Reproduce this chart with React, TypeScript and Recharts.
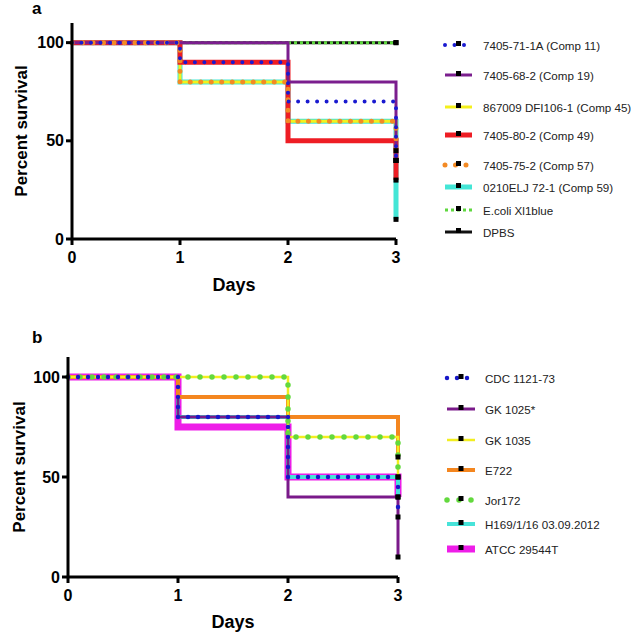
import React from 'react';
import { LineChart, Line, XAxis, YAxis } from 'recharts';

// ---------- data ----------
const days = [0, 1, 2, 3];
const xTicks = [0, 1, 2, 3];
const yTicks = [0, 50, 100];

// Panel a
const namesA = [
  '7405-71-1A (Comp 11)',
  '7405-68-2 (Comp 19)',
  '867009 DFI106-1 (Comp 45)',
  '7405-80-2 (Comp 49)',
  '7405-75-2 (Comp 57)',
  '0210ELJ 72-1 (Comp 59)',
  'E.coli Xl1blue',
  'DPBS',
];
const comp11 = [100, 90, 70, 40];
const comp19 = [100, 100, 80, 40];
const comp45 = [100, 80, 60, 40];
const comp49 = [100, 90, 50, 30];
const comp57 = [100, 80, 60, 45];
const comp59 = [100, 80, 60, 10];
const ecoli = [100, 100, 100, 100];
const dpbs = [100, 100, 100, 100];
const valuesA = [comp11, comp19, comp45, comp49, comp57, comp59, ecoli, dpbs];

// Panel b
const namesB = [
  'CDC 1121-73',
  'GK 1025*',
  'GK 1035',
  'E722',
  'Jor172',
  'H169/1/16 03.09.2012',
  'ATCC 29544T',
];
const cdc = [100, 80, 50, 30];
const gk1025 = [100, 80, 40, 10];
const gk1035 = [100, 100, 70, 50];
const e722 = [100, 90, 80, 60];
const jor172 = [100, 100, 70, 50];
const h169 = [100, 80, 50, 40];
const atcc = [100, 75, 50, 40];
const valuesB = [cdc, gk1025, gk1035, e722, jor172, h169, atcc];

// ---------- styles ----------
type St = { color: string; width: number; dash?: string; cap?: 'round' | 'butt' };
const stylesA: St[] = [
  { color: '#1a1ad0', width: 4, dash: '0 9.5', cap: 'round' },
  { color: '#7b1e8e', width: 3 },
  { color: '#f4f01c', width: 3 },
  { color: '#ee1d24', width: 5 },
  { color: '#f38a24', width: 5, dash: '0 10.5', cap: 'round' },
  { color: '#44e6d6', width: 5 },
  { color: '#5fd83f', width: 3, dash: '3 3' },
  { color: '#111111', width: 3 },
];
const orderA = [7, 6, 5, 2, 3, 1, 4, 0];
const legendYA = [45, 75, 107, 135, 165, 187, 210, 232];

const stylesB: St[] = [
  { color: '#1818c8', width: 4.5, dash: '0 10', cap: 'round' },
  { color: '#7a1a8a', width: 3 },
  { color: '#f2ee20', width: 2.5 },
  { color: '#f4861f', width: 4 },
  { color: '#63d93e', width: 5.5, dash: '0 12', cap: 'round' },
  { color: '#47e3d9', width: 4 },
  { color: '#ee1de8', width: 7 },
];
const orderB = [6, 5, 1, 3, 2, 4, 0];
const legendYB = [378, 409, 440, 470, 500, 524, 549];

const FONT = '"Liberation Sans", Arial, Helvetica, sans-serif';

const buildRows = (vals: number[][]) =>
  days.map((d, i) => {
    const row: Record<string, number> = { day: d };
    vals.forEach((v, k) => {
      row['s' + k] = v[i];
    });
    return row;
  });

const rowsA = buildRows(valuesA);
const rowsB = buildRows(valuesB);

const endMark = (props: any) => {
  const { cx, cy, index } = props;
  if (index !== days.length - 1 || cx == null || cy == null) return <g key={'m' + index} />;
  return <rect key={'m' + index} x={cx - 2.5} y={cy - 2.5} width={5} height={5} fill="#000" />;
};

const tickStyle = { fill: '#000', fontSize: 16, fontWeight: 'bold', fontFamily: FONT };
const axisStroke = { stroke: '#000', strokeWidth: 3 };

function Panel(props: {
  rows: Record<string, number>[];
  styles: St[];
  order: number[];
  margin: { top: number; right: number; bottom: number; left: number };
  top: number;
}) {
  const { rows, styles, order, margin, top } = props;
  return (
    <div style={{ position: 'absolute', left: 0, top, width: 420, height: 300 }}>
      <LineChart width={420} height={300} data={rows} margin={margin}>
        <XAxis
          dataKey="day"
          type="number"
          domain={[0, 3]}
          ticks={xTicks}
          axisLine={axisStroke}
          tickLine={axisStroke}
          tickSize={6}
          tickMargin={7}
          tick={tickStyle}
          height={30}
        />
        <YAxis
          type="number"
          domain={[0, 110]}
          ticks={yTicks}
          axisLine={axisStroke}
          tickLine={axisStroke}
          tickSize={6}
          tickMargin={2}
          tick={tickStyle}
          width={40}
        />
        {order.map((k) => (
          <Line
            key={k}
            dataKey={'s' + k}
            type="stepAfter"
            stroke={styles[k].color}
            strokeWidth={styles[k].width}
            strokeDasharray={styles[k].dash}
            strokeLinecap={styles[k].cap || 'butt'}
            dot={endMark}
            activeDot={false}
            isAnimationActive={false}
          />
        ))}
      </LineChart>
    </div>
  );
}

function LegendRows(props: { names: string[]; styles: St[]; ys: number[]; x0: number; x1: number; tx: number }) {
  const { names, styles, ys, x0, x1, tx } = props;
  return (
    <g>
      {names.map((n, i) => {
        const s = styles[i];
        const y = ys[i];
        const mid = (x0 + x1) / 2;
        return (
          <g key={n}>
            <line
              x1={x0}
              x2={x1}
              y1={y}
              y2={y}
              stroke={s.color}
              strokeWidth={s.width}
              strokeDasharray={s.dash}
              strokeLinecap={s.cap || 'butt'}
            />
            <rect x={mid - 2.5} y={y - 4} width={5} height={5} fill="#000" />
            <text x={tx} y={y + 4.5} fontSize={11.6} fontFamily={FONT} fill="#222">
              {n}
            </text>
          </g>
        );
      })}
    </g>
  );
}

export default function App() {
  return (
    <div style={{ position: 'absolute', left: 0, top: 0, width: 635, height: 639, background: '#fff' }}>
      <Panel rows={rowsA} styles={stylesA} order={orderA} margin={{ top: 23, right: 24, bottom: 31, left: 32 }} top={0} />
      <Panel rows={rowsB} styles={stylesB} order={orderB} margin={{ top: 27, right: 22, bottom: 23, left: 28 }} top={330} />
      <svg width={635} height={639} style={{ position: 'absolute', left: 0, top: 0, pointerEvents: 'none' }}>
        <text x={32} y={14} fontSize={17} fontWeight="bold" fontFamily={FONT} fill="#000">a</text>
        <text x={32} y={343} fontSize={17} fontWeight="bold" fontFamily={FONT} fill="#000">b</text>
        <text x={234} y={291} fontSize={18} fontWeight="bold" fontFamily={FONT} textAnchor="middle" fill="#000">Days</text>
        <text x={233} y={628} fontSize={18} fontWeight="bold" fontFamily={FONT} textAnchor="middle" fill="#000">Days</text>
        <text transform="translate(27,131) rotate(-90)" fontSize={17} fontWeight="bold" fontFamily={FONT} textAnchor="middle" fill="#000">Percent survival</text>
        <text transform="translate(25,467) rotate(-90)" fontSize={17} fontWeight="bold" fontFamily={FONT} textAnchor="middle" fill="#000">Percent survival</text>
        <LegendRows names={namesA} styles={stylesA} ys={legendYA} x0={445} x1={472} tx={483} />
        <LegendRows names={namesB} styles={stylesB} ys={legendYB} x0={447} x1={475} tx={485} />
      </svg>
    </div>
  );
}
